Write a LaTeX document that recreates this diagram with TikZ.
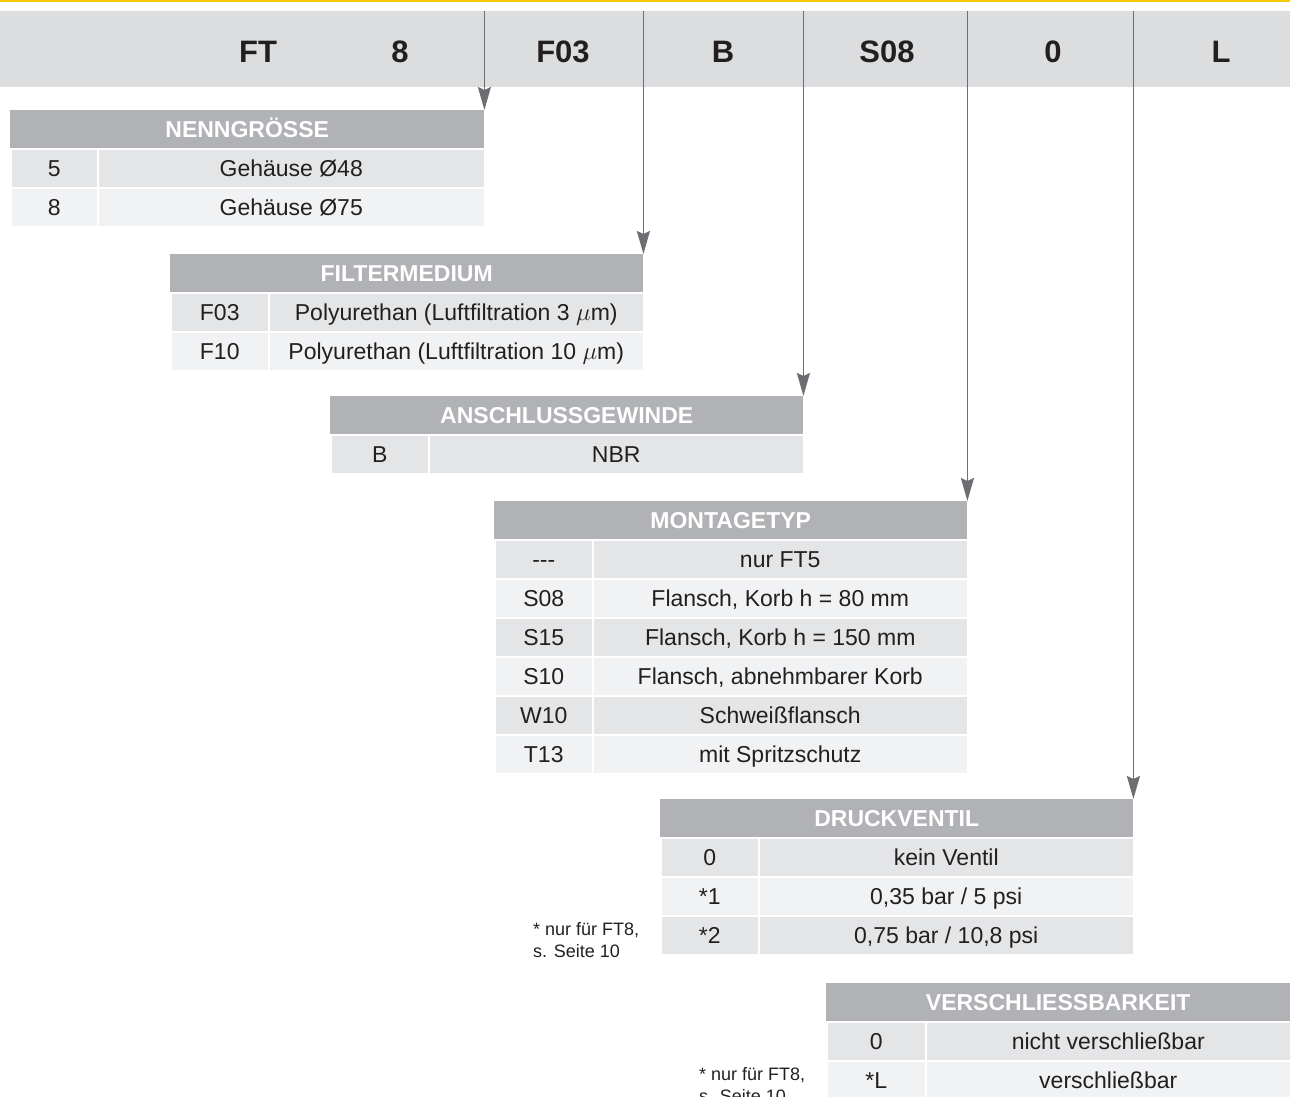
\documentclass[tikz,border=0pt]{standalone}
\usepackage{fontspec}
\setmainfont{Liberation Sans}
\usetikzlibrary{arrows.meta}
\definecolor{bandgray}{HTML}{DCDDDF}
\definecolor{hdrgray}{HTML}{B1B2B5}
\definecolor{rowdark}{HTML}{E4E5E6}
\definecolor{rowlight}{HTML}{F1F2F3}
\definecolor{arrowgray}{HTML}{6D6E71}
\definecolor{txt}{HTML}{231F20}
\definecolor{topyellow}{HTML}{F8C800}
\tikzset{
  cell/.style={draw=white, line width=1.5pt, inner sep=0pt, minimum height=39,
    text height=16.5pt, text depth=0pt, anchor=north west,
    font=\fontsize{23}{27}\selectfont, text=txt},
  rdark/.style={fill=rowdark},
  rlight/.style={fill=rowlight},
  hdr/.style={fill=hdrgray, inner sep=0pt, minimum height=38,
    text height=16.5pt, text depth=0pt, anchor=north west,
    font=\bfseries\fontsize{23}{27}\selectfont, text=white},
  code/.style={anchor=base, inner sep=0pt, font=\bfseries\fontsize{31}{31}\selectfont, text=txt},
  fn/.style={anchor=base west, inner sep=0pt, font=\fontsize{18}{22}\selectfont, text=txt},
  arr/.style={draw=arrowgray, line width=1.8pt, -{Stealth[length=23pt,width=13pt,inset=3pt]}}
}
\newcommand\mkrow[8]{%
  \node[cell,#6,minimum width={#3-#2}] (#1k) at (#2,#5) {#7};
  \node[cell,#6,minimum width={#4-#3}] (#1v) at (#3,#5) {#8};}
\newcommand\mkhead[5]{%
  \node[hdr,minimum width={#3-#2}] (#1) at (#2,#4) {#5};}
\begin{document}
\begin{tikzpicture}[x=1pt,y=-1pt]
\useasboundingbox (0,0) rectangle (1290,1096);
% top yellow rule
\fill[topyellow] (0,0) rectangle (1290,2);
% code band
\node[fill=bandgray, minimum width=1290, minimum height=76, inner sep=0pt, anchor=north west] (band) at (0,11) {};
\node[code] (cFT) at (258,62) {FT};
\node[code] (c8) at (400,62) {8};
\node[code] (cF03) at (563,62) {F03};
\node[code] (cB) at (723,62) {B};
\node[code] (cS08) at (887,62) {S08};
\node[code] (c0) at (1053,62) {0};
\node[code] (cL) at (1221,62) {L};

% NENNGROESSE
\mkhead{nenn}{10}{484}{110}{NENNGRÖSSE}
\mkrow{nennA}{10}{97}{484}{148}{rdark}{5}{Gehäuse Ø48}
\mkrow{nennB}{10}{97}{484}{187}{rlight}{8}{Gehäuse Ø75}

% FILTERMEDIUM
\mkhead{filt}{170}{643}{254}{FILTERMEDIUM}
\mkrow{filtA}{170}{268}{643}{292}{rdark}{F03}{Polyurethan (Luftfiltration 3 $\mu$m)}
\mkrow{filtB}{170}{268}{643}{331}{rlight}{F10}{Polyurethan (Luftfiltration 10 $\mu$m)}

% ANSCHLUSSGEWINDE
\mkhead{ansch}{330}{803}{396}{ANSCHLUSSGEWINDE}
\mkrow{anschA}{330}{428}{803}{434}{rdark}{B}{NBR}

% MONTAGETYP
\mkhead{mont}{494}{967}{501}{MONTAGETYP}
\mkrow{montA}{494}{592}{967}{539}{rdark}{-{}-{}-}{nur FT5}
\mkrow{montB}{494}{592}{967}{578}{rlight}{S08}{Flansch, Korb h = 80 mm}
\mkrow{montC}{494}{592}{967}{617}{rdark}{S15}{Flansch, Korb h = 150 mm}
\mkrow{montD}{494}{592}{967}{656}{rlight}{S10}{Flansch, abnehmbarer Korb}
\mkrow{montE}{494}{592}{967}{695}{rdark}{W10}{Schweißflansch}
\mkrow{montF}{494}{592}{967}{734}{rlight}{T13}{mit Spritzschutz}

% DRUCKVENTIL
\mkhead{druck}{660}{1133}{799}{DRUCKVENTIL}
\mkrow{druckA}{660}{758}{1133}{837}{rdark}{0}{kein Ventil}
\mkrow{druckB}{660}{758}{1133}{876}{rlight}{*1}{0,35 bar / 5 psi}
\mkrow{druckC}{660}{758}{1133}{915}{rdark}{*2}{0,75 bar / 10,8 psi}
\node[fn] (fn1a) at (533,935) {* nur für FT8,};
\node[fn] (fn1b) at (533,957) {s. Seite 10};

% VERSCHLIESSBARKEIT
\mkhead{versch}{826}{1290}{983}{VERSCHLIESSBARKEIT}
\mkrow{verschA}{826}{925}{1290}{1021}{rdark}{0}{nicht verschließbar}
\mkrow{verschB}{826}{925}{1290}{1060}{rlight}{*L}{verschließbar}
\node[fn] (fn2a) at (699,1080) {* nur für FT8,};
\node[fn] (fn2b) at (699,1102) {s. Seite 10};

% connectors
\draw[arr] (band.north -| nenn.north east) -- (nenn.north east);
\draw[arr] (band.north -| filt.north east) -- (filt.north east);
\draw[arr] (band.north -| ansch.north east) -- (ansch.north east);
\draw[arr] (band.north -| mont.north east) -- (mont.north east);
\draw[arr] (band.north -| druck.north east) -- (druck.north east);
\end{tikzpicture}
\end{document}
